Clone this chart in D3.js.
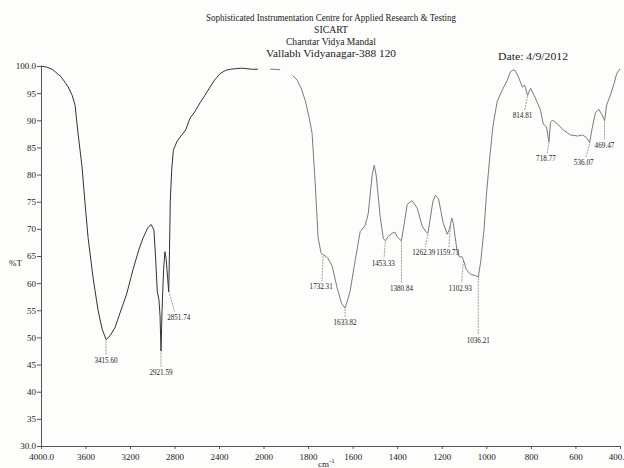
<html>
<head>
<title>IR spectrum</title>
<style>
  body { margin: 0; background: #fdfdfb; }
  svg text { font-family: "Liberation Serif", "DejaVu Serif", serif; fill: #222; }
</style>
</head>
<body>
<div id="chart"></div>
<script src="https://cdn.jsdelivr.net/npm/d3@7/dist/d3.min.js"></script>
<script>
// spectrum (cm-1 and %T)
var wavenumbers = [4000, 3950, 3900, 3870, 3820, 3780, 3757, 3720, 3694, 3667, 3631, 3604, 3577, 3532, 3487, 3450, 3415, 3380, 3335, 3290, 3230, 3173, 3120, 3083, 3040, 3010, 2985, 2968, 2955, 2940, 2930, 2921, 2912, 2898, 2886, 2875, 2862, 2852, 2845, 2838, 2825, 2810, 2780, 2750, 2700, 2660, 2620, 2571, 2530, 2481, 2440, 2391, 2340, 2300, 2200, 2100, 2050, 2010, 1970, 1950, 1925, 1900, 1870, 1849, 1830, 1813, 1795, 1782, 1768, 1755, 1742, 1732, 1722, 1710, 1692, 1670, 1650, 1634, 1620, 1611, 1589, 1566, 1544, 1530, 1512, 1503, 1494, 1476, 1462, 1453, 1440, 1422, 1410, 1398, 1381, 1370, 1355, 1333, 1310, 1288, 1268, 1262, 1252, 1240, 1229, 1215, 1193, 1175, 1165, 1155, 1148, 1140, 1130, 1120, 1110, 1103, 1090, 1070, 1050, 1036, 1025, 1010, 1000, 985, 970, 951, 928, 906, 892, 880, 870, 856, 838, 828, 815, 801, 780, 757, 744, 730, 719, 712, 704, 690, 654, 622, 590, 568, 550, 536, 525, 510, 495, 480, 469, 460, 440, 425, 415, 400];
var transmittance = [100.0, 99.8, 99.4, 98.9, 98.0, 96.9, 96.2, 94.6, 92.8, 87.6, 81.4, 74.7, 68.4, 61.0, 55.0, 51.5, 49.6, 50.3, 51.8, 54.5, 58.0, 62.5, 66.2, 68.3, 70.2, 70.8, 69.8, 64.0, 58.5, 57.0, 54.0, 47.5, 55.0, 62.5, 65.8, 64.5, 61.0, 58.4, 66.0, 75.0, 81.0, 84.5, 86.0, 86.9, 88.2, 90.4, 91.5, 93.2, 94.5, 96.1, 97.4, 98.6, 99.2, 99.4, 99.6, 99.4, 99.4, 99.3, 99.4, 99.4, 99.3, 99.1, 98.3, 97.4, 95.8, 93.7, 90.5, 87.6, 78.4, 68.4, 65.6, 65.2, 65.0, 64.5, 63.2, 59.2, 56.3, 55.4, 57.2, 58.6, 64.1, 69.5, 70.6, 72.8, 80.0, 81.7, 79.8, 72.1, 68.2, 67.8, 68.6, 69.2, 69.4, 68.4, 67.8, 70.5, 74.5, 75.2, 73.8, 70.5, 69.3, 69.2, 71.8, 75.0, 76.2, 75.6, 71.0, 69.0, 70.0, 72.0, 71.0, 68.5, 65.6, 64.8, 64.9, 64.3, 62.5, 61.6, 61.4, 61.1, 64.0, 70.0, 76.0, 83.0, 89.0, 93.5, 95.6, 97.4, 98.9, 99.3, 99.1, 98.0, 96.1, 96.5, 94.6, 95.9, 94.1, 91.9, 89.3, 88.8, 86.0, 89.6, 90.0, 89.7, 88.2, 87.3, 87.1, 87.3, 86.8, 85.9, 88.5, 91.4, 92.0, 91.0, 89.9, 92.8, 95.0, 97.0, 98.6, 99.5];

// picked peaks and the %T level where each label sits
var peakNames = ["3415.60", "2921.59", "2851.74", "1732.31", "1633.82", "1453.33", "1380.84", "1262.39", "1159.73", "1102.93", "1036.21", "814.81", "718.77", "536.07", "469.47"];
var peakLabelT = [45.3, 43.1, 53.2, 58.9, 52.3, 63.2, 58.6, 65.2, 65.2, 58.6, 49.0, 90.4, 82.5, 81.8, 84.9];
var peakShift = [0, 0, 10, -2, 0, -2, 0, -4, -3, -3, 0, -5, -3, -6, 0];

var xTicks = [4000, 3600, 3200, 2800, 2400, 2000, 1800, 1600, 1400, 1200, 1000, 800, 600, 400];
var yTicks = [30, 35, 40, 45, 50, 55, 60, 65, 70, 75, 80, 85, 90, 95, 100];

var titleLines = ["Sophisticated Instrumentation Centre for Applied Research & Testing", "SICART", "Charutar Vidya Mandal", "Vallabh Vidyanagar-388 120"];
var titleWidths = [250, 34, 90, 130];
var dateText = "Date: 4/9/2012";

var width = 624, height = 468;

var svg = d3.select("#chart").append("svg")
  .attr("width", width)
  .attr("height", height);

// the instrument scale doubles below 2000 cm-1
var x = d3.scaleLinear().domain([4000, 2000, 400]).range([41, 263.5, 620]);
var y = d3.scaleLinear().domain([30, 100]).range([446, 66]);

// header
svg.selectAll(".title").data(titleLines).enter().append("text")
  .attr("class", "title")
  .attr("x", 331)
  .attr("y", function(d, i){ return 21 + i * 12; })
  .attr("text-anchor", "middle")
  .attr("font-size", 10.5)
  .attr("textLength", function(d, i){ return titleWidths[i]; })
  .attr("lengthAdjust", "spacingAndGlyphs")
  .text(function(d){ return d; });

svg.append("text")
  .attr("x", 498).attr("y", 60)
  .attr("font-size", 11)
  .attr("textLength", 70)
  .attr("lengthAdjust", "spacingAndGlyphs")
  .text(dateText);

// axes
var xAxis = svg.append("g")
  .attr("transform", "translate(0," + y(30) + ")")
  .call(d3.axisBottom(x).tickValues(xTicks).tickSize(3).tickSizeOuter(0)
    .tickFormat(function(d){ return d == 4000 ? "4000.0" : (d == 400 ? "400." : d); }));
var yAxis = svg.append("g")
  .attr("transform", "translate(" + x(4000) + ",0)")
  .call(d3.axisLeft(y).tickValues(yTicks).tickSize(4).tickSizeOuter(0)
    .tickFormat(function(d){ return (d == 30 || d == 100) ? d.toFixed(1) : d; }));

svg.selectAll(".domain, .tick line").attr("stroke", "#555");
svg.selectAll(".tick text")
  .attr("font-family", "Liberation Serif")
  .attr("font-size", 9)
  .attr("fill", "#222");
xAxis.selectAll(".tick text").attr("dy", "0.9em");
xAxis.selectAll(".tick text").filter(function(d){ return d == 400; })
  .attr("text-anchor", "end").attr("dx", 4);
yAxis.selectAll(".tick text").attr("x", -5);

svg.append("text")
  .attr("x", 9).attr("y", 266)
  .attr("font-size", 9)
  .text("%T");

var unit = svg.append("text")
  .attr("x", 318).attr("y", 467)
  .attr("font-size", 9)
  .text("cm");
unit.append("tspan").attr("dy", -4).attr("font-size", 7).text("-1");

// spectrum trace; the scan loses the pen around 2000 cm-1
var spectrum = wavenumbers.map(function(w, i){ return {wn: w, t: transmittance[i]}; });
var line = d3.line()
  .defined(function(d){ return !(d.wn < 2050 && d.wn > 1970) && !(d.wn < 1925 && d.wn > 1870); })
  .x(function(d){ return x(d.wn); })
  .y(function(d){ return y(d.t); });

svg.append("path")
  .datum(spectrum.filter(function(d){ return d.wn >= 2050; }))
  .attr("fill", "none")
  .attr("stroke", "#333")
  .attr("stroke-width", 1)
  .attr("d", line);

svg.append("path")
  .datum(spectrum.filter(function(d){ return d.wn <= 1970; }))
  .attr("fill", "none")
  .attr("stroke", "#7a7a7a")
  .attr("stroke-width", 1)
  .attr("d", line);

// peak markers
var bis = d3.bisector(function(d){ return -d.wn; }).left;
function tAt(w) {
  var i = bis(spectrum, -w);
  if (i <= 0) return spectrum[0].t;
  var a = spectrum[i - 1], b = spectrum[i];
  var f = (a.wn - w) / (a.wn - b.wn);
  return a.t + (b.t - a.t) * f;
}

var peaks = peakNames.map(function(n, i){
  return {name: n, wn: +n, labelT: peakLabelT[i], shift: peakShift[i]};
});

var marks = svg.selectAll(".peak").data(peaks).enter().append("g").attr("class", "peak");

marks.append("line")
  .attr("x1", function(d){ return x(d.wn); })
  .attr("y1", function(d){ return y(tAt(d.wn)) + 1; })
  .attr("x2", function(d){ return x(d.wn) + d.shift * 0.6; })
  .attr("y2", function(d){ return y(d.labelT) - 8; })
  .attr("stroke", "#777")
  .attr("stroke-width", 0.7)
  .attr("stroke-dasharray", "2,1");

marks.append("text")
  .attr("x", function(d){ return x(d.wn) + d.shift; })
  .attr("y", function(d){ return y(d.labelT); })
  .attr("text-anchor", "middle")
  .attr("font-size", 8)
  .attr("textLength", function(d){ return d.name.length * 3.3; })
  .attr("lengthAdjust", "spacingAndGlyphs")
  .text(function(d){ return d.name; });
</script>
</body>
</html>
